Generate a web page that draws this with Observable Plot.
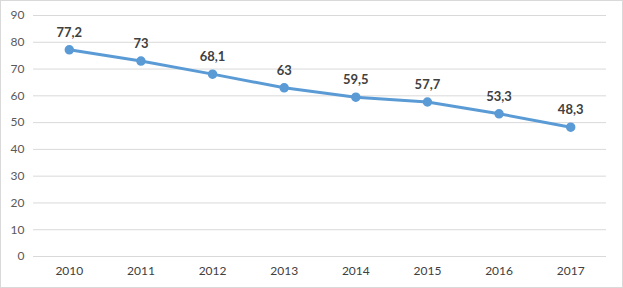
<!DOCTYPE html>
<html>
<head>
<meta charset="utf-8">
<script src="https://cdn.jsdelivr.net/npm/d3@7"></script>
<script src="https://cdn.jsdelivr.net/npm/@observablehq/plot@0.6"></script>
<style>
  html, body { margin: 0; padding: 0; background: #fff; }
  #chart svg { display: block; outline: 1px solid #d9d9d9; outline-offset: -1px; }
</style>
</head>
<body>
<div id="chart"></div>
<script>
const years = ["2010", "2011", "2012", "2013", "2014", "2015", "2016", "2017"];
const values = [77.2, 73, 68.1, 63, 59.5, 57.7, 53.3, 48.3];
const yTicks = [0, 10, 20, 30, 40, 50, 60, 70, 80, 90];

const data = years.map((y, i) => ({year: y, value: values[i]}));
const fmt = v => String(v).replace(".", ",");

const chart = Plot.plot({
  width: 623,
  height: 288,
  marginLeft: 33,
  marginRight: 17,
  marginTop: 15,
  marginBottom: 32,
  style: {fontFamily: "Lato, 'Open Sans', sans-serif", fontSize: "12px", color: "#595959", background: "#fff"},
  x: {type: "point", domain: years, padding: 0.5, round: false, label: null},
  y: {domain: [0, 90], label: null},
  marks: [
    Plot.gridY(yTicks, {stroke: "#d9d9d9", strokeOpacity: 1, strokeWidth: 1}),
    Plot.axisY(yTicks, {tickSize: 0, tickPadding: 9, fill: "#595959", fontSize: 12}),
    Plot.axisX({tickSize: 0, tickPadding: 10, fill: "#404040", fontSize: 12}),
    Plot.line(data, {x: "year", y: "value", stroke: "#5b9bd5", strokeWidth: 3, curve: "linear"}),
    Plot.dot(data, {x: "year", y: "value", r: 4, fill: "#5b9bd5", stroke: "#5b9bd5"}),
    Plot.text(data, {x: "year", y: "value", text: d => fmt(d.value), dy: -17, fill: "#404040", fontWeight: "bold", fontSize: 13})
  ]
});
document.getElementById("chart").appendChild(chart);
</script>
</body>
</html>
